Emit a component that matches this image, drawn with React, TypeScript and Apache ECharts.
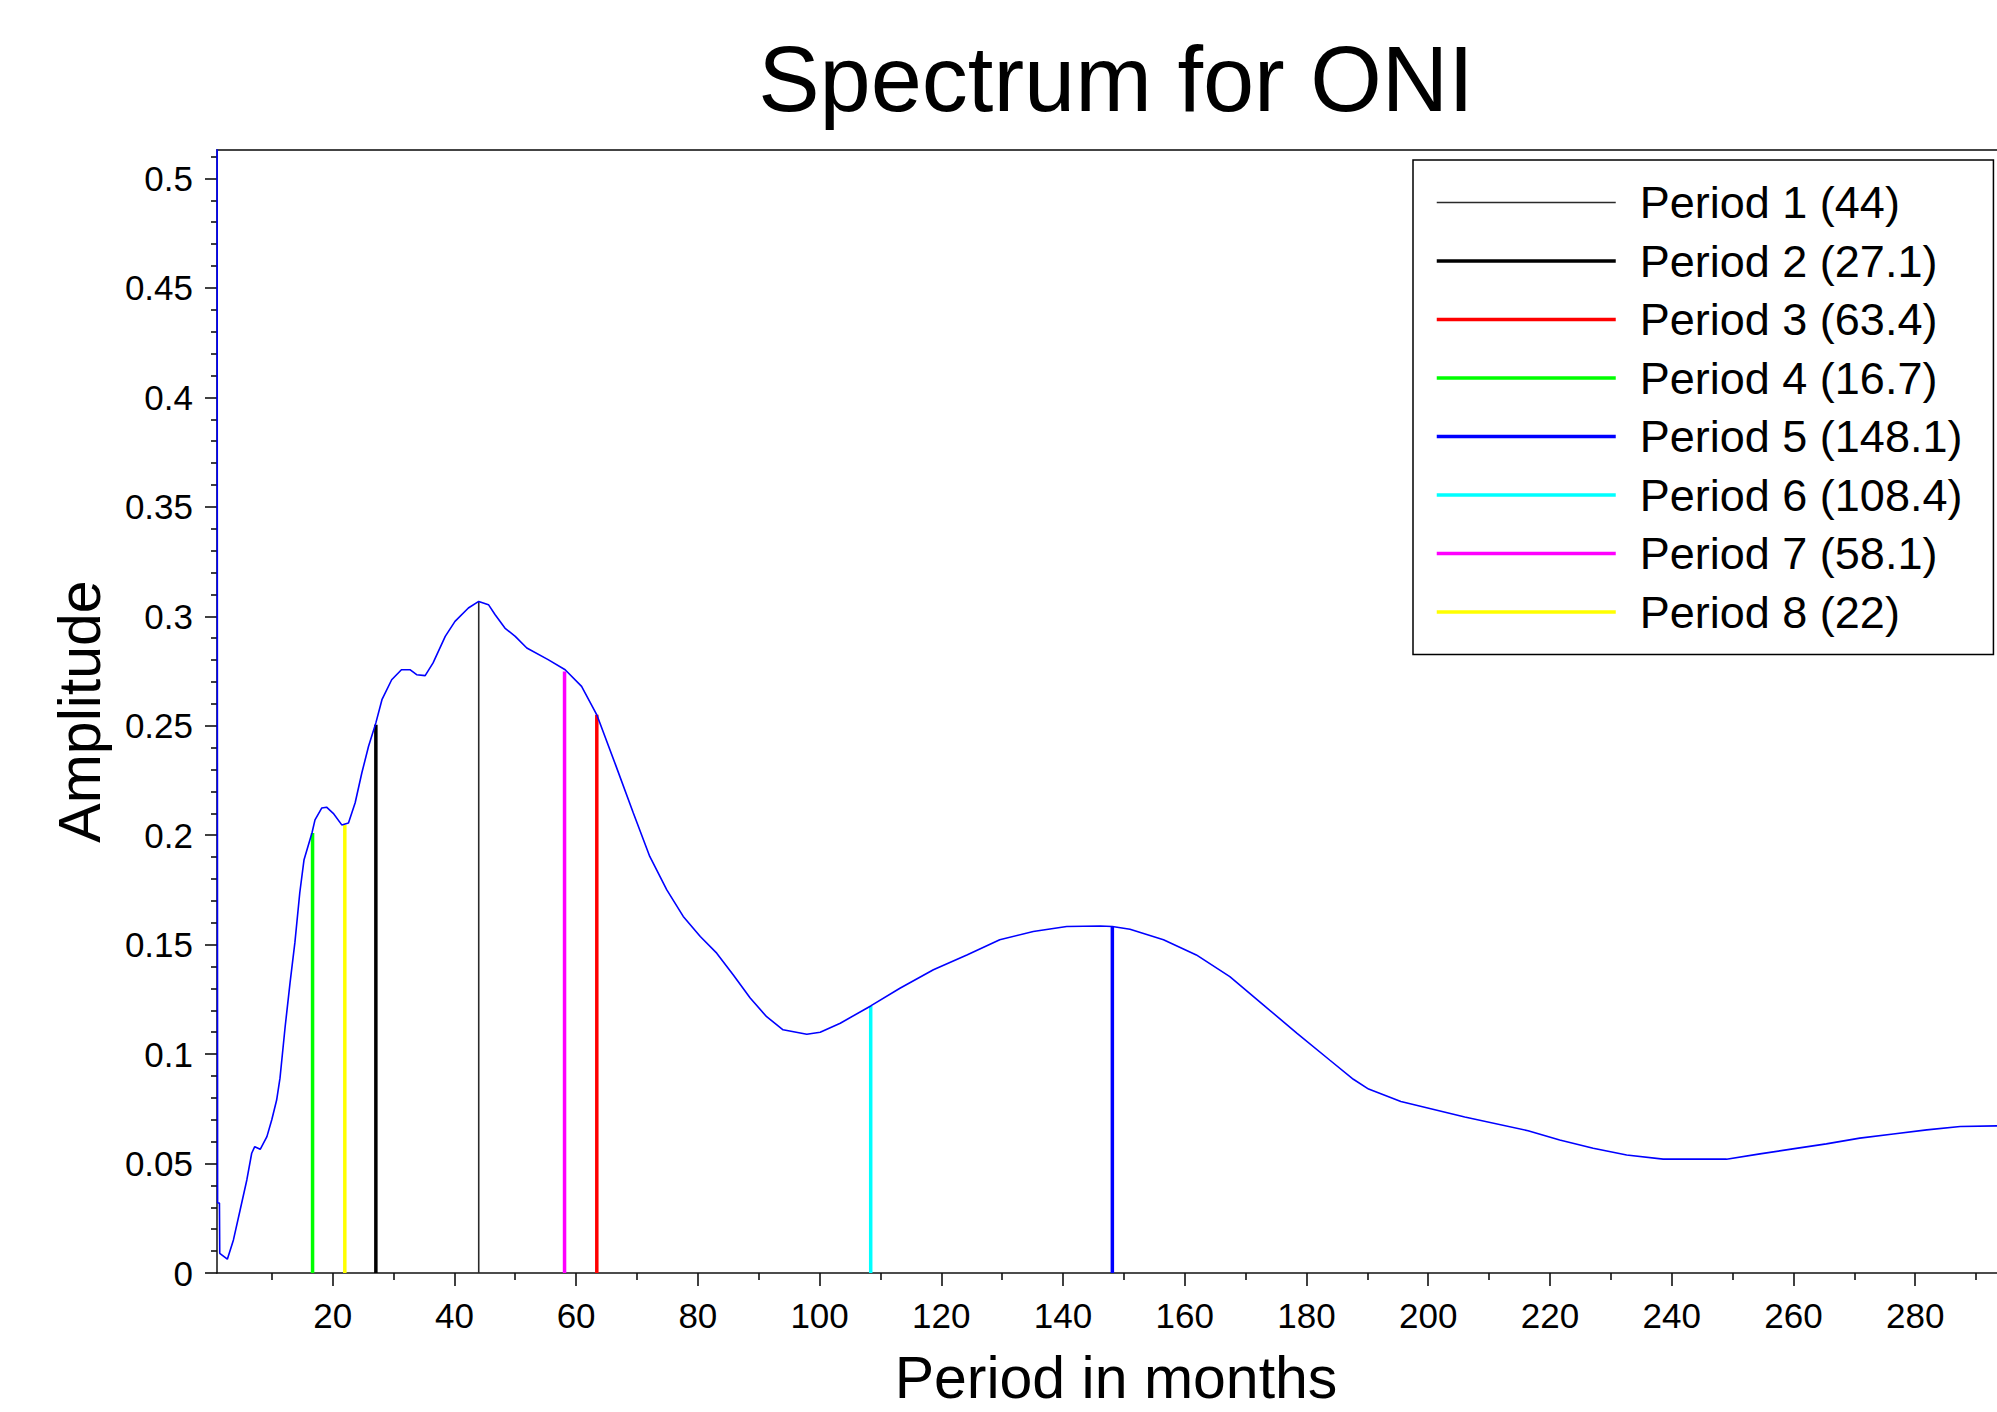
import React, { useEffect, useRef } from "react";
import * as echarts from "echarts";

const titleText = "Spectrum for ONI";
const xAxisName = "Period in months";
const yAxisName = "Amplitude";

const periodLabels = [
  "Period 1 (44)",
  "Period 2 (27.1)",
  "Period 3 (63.4)",
  "Period 4 (16.7)",
  "Period 5 (148.1)",
  "Period 6 (108.4)",
  "Period 7 (58.1)",
  "Period 8 (22)",
];
const periodX = [44, 27.1, 63.4, 16.7, 148.1, 108.4, 58.1, 22];
const periodAmp = [0.3068, 0.2505, 0.255, 0.201, 0.1583, 0.122, 0.2748, 0.2047];
const periodColors = ["#2a2a2a", "#000000", "#ff0000", "#00ff00", "#0000ff", "#00ffff", "#ff00ff", "#ffff00"];
const periodWidths = [1.6, 3.5, 3.5, 3.5, 3.5, 3.5, 3.5, 3.5];
const legendWidths = [1.3, 3.5, 3.5, 3.5, 3.5, 3.5, 3.5, 3.5];

const spectrumPeriod = [
  1.0, 1.1, 1.4, 1.45, 2.7, 3.7, 4.8, 5.9, 6.7, 7.2, 8.1, 9.2, 10.0, 10.8, 11.35, 12.2, 13.0, 13.8, 14.6, 15.3,
  16.6, 17.1, 18.2, 19.0, 20.1, 21.5, 22.6, 23.7, 24.8, 25.9, 27.1, 28.1, 29.7, 31.3, 32.7, 33.8, 35.2, 36.5,
  38.5, 40.1, 42.3, 44.0, 45.6, 46.7, 48.3, 50.0, 51.9, 55.4, 58.2, 60.9, 63.4, 66.5, 69.4, 72.1, 74.9, 77.6,
  80.4, 83.1, 85.8, 88.6, 91.3, 94.0, 97.9, 100.1, 103.4, 108.4, 113.2, 118.7, 124.2, 129.6, 135.1, 140.6,
  146.1, 148.1, 151.0, 156.5, 161.9, 167.4, 172.9, 178.4, 183.8, 187.7, 190.2, 195.5, 206.0, 216.4, 221.6,
  227.1, 232.6, 238.6, 249.0, 254.5, 259.9, 265.4, 270.9, 276.4, 281.9, 287.4, 293.4, 296.4,
];
const spectrumAmp = [
  0.62, 0.032, 0.032, 0.009, 0.0063, 0.0151, 0.0288, 0.0425, 0.0547, 0.0577, 0.0565, 0.0623, 0.07, 0.079, 0.089,
  0.1126, 0.1325, 0.151, 0.1737, 0.1888, 0.201, 0.207, 0.2124, 0.2128, 0.21, 0.2047, 0.2056, 0.2148, 0.2285,
  0.2406, 0.2513, 0.2619, 0.271, 0.2756, 0.2756, 0.2733, 0.2729, 0.2787, 0.2908, 0.2977, 0.3038, 0.3068,
  0.3053, 0.3007, 0.2946, 0.2908, 0.2855, 0.2802, 0.2756, 0.268, 0.255, 0.232, 0.2101, 0.1903, 0.175, 0.1629,
  0.1537, 0.1461, 0.1362, 0.1256, 0.1171, 0.1111, 0.1091, 0.11, 0.1141, 0.122, 0.1301, 0.1385, 0.1453, 0.1522,
  0.156, 0.1583, 0.1585, 0.1583, 0.157, 0.1522, 0.1453, 0.1354, 0.1225, 0.1096, 0.0973, 0.0885, 0.084, 0.0783,
  0.0713, 0.065, 0.0608, 0.057, 0.0539, 0.052, 0.052, 0.0544, 0.0567, 0.059, 0.0616, 0.0635, 0.0654, 0.0669,
  0.0672, 0.0673,
];

const xMajorTicks = [20, 40, 60, 80, 100, 120, 140, 160, 180, 200, 220, 240, 260, 280];
const xMinorTicks = [10, 30, 50, 70, 90, 110, 130, 150, 170, 190, 210, 230, 250, 270, 290];
const yMajorTicks = [0, 0.05, 0.1, 0.15, 0.2, 0.25, 0.3, 0.35, 0.4, 0.45, 0.5];
const yMinorTicks = [
  0.01, 0.02, 0.03, 0.04, 0.06, 0.07, 0.08, 0.09, 0.11, 0.12, 0.13, 0.14, 0.16, 0.17, 0.18, 0.19, 0.21, 0.22,
  0.23, 0.24, 0.26, 0.27, 0.28, 0.29, 0.31, 0.32, 0.33, 0.34, 0.36, 0.37, 0.38, 0.39, 0.41, 0.42, 0.43, 0.44,
  0.46, 0.47, 0.48, 0.49, 0.51,
];

const X_MIN = 1;
const X_MAX = 296.4;
const Y_MIN = 0;
const Y_MAX = 0.513;

const FONT = "'Liberation Sans', Arial, Helvetica, sans-serif";

export default function App() {
  const ref = useRef<HTMLDivElement>(null);

  useEffect(() => {
    if (!ref.current) return;
    const chart = echarts.init(ref.current, undefined, { renderer: "svg" });

    const axisColor = "#111";

    const periodSeries = periodLabels.map((name, i) => ({
      name,
      type: "line",
      xAxisIndex: 0,
      yAxisIndex: 0,
      data: [
        [periodX[i], 0],
        [periodX[i], periodAmp[i]],
      ],
      symbol: "none",
      showSymbol: false,
      lineStyle: { color: periodColors[i], width: periodWidths[i] },
      itemStyle: { color: periodColors[i] },
      z: 3,
      silent: true,
    }));

    const option: any = {
      animation: false,
      textStyle: { fontFamily: FONT },
      graphic: [
        {
          type: "text",
          x: 1116,
          y: 33,
          style: {
            text: titleText,
            font: `92px ${FONT}`,
            fill: "#000",
            align: "center",
            verticalAlign: "top",
          },
        },
      ],
      grid: {
        left: 217,
        top: 150,
        right: -18,
        bottom: 139,
        show: false,
        containLabel: false,
        outerBoundsMode: "none",
      },
      legend: {
        show: true,
        orient: "vertical",
        left: 1413,
        top: 160,
        data: periodLabels.map((name, i) => ({
          name,
          lineStyle: { width: legendWidths[i], color: periodColors[i] },
        })),
        itemWidth: 179,
        itemHeight: 46,
        itemGap: 13.5,
        padding: [20, 31, 20, 22],
        borderColor: "#000",
        borderWidth: 1.5,
        backgroundColor: "#fff",
        selectedMode: false,
        itemStyle: { opacity: 0, borderWidth: 0 },
        textStyle: { fontSize: 45, color: "#000", fontFamily: FONT, padding: [0, 0, 0, 19] },
        z: 10,
      },
      xAxis: [
        {
          type: "value",
          min: X_MIN,
          max: X_MAX,
          position: "bottom",
          name: xAxisName,
          nameLocation: "middle",
          nameGap: 81,
          nameTextStyle: { fontSize: 59, lineHeight: 48, color: "#000", fontFamily: FONT },
          axisLine: { show: true, onZero: false, lineStyle: { color: axisColor, width: 1.5 } },
          axisTick: { show: true, customValues: xMajorTicks, length: 13, lineStyle: { color: axisColor, width: 1.6 } },
          axisLabel: { show: true, customValues: xMajorTicks, fontSize: 35, color: "#000", margin: 25, fontFamily: FONT },
          splitLine: { show: false },
        },
        {
          type: "value",
          min: X_MIN,
          max: X_MAX,
          position: "bottom",
          axisLine: { show: false, onZero: false },
          axisTick: { show: true, customValues: xMinorTicks, length: 7, lineStyle: { color: axisColor, width: 1.6 } },
          axisLabel: { show: false },
          splitLine: { show: false },
        },
        {
          type: "value",
          min: X_MIN,
          max: X_MAX,
          position: "top",
          axisLine: { show: true, onZero: false, lineStyle: { color: "#444", width: 2 } },
          axisTick: { show: false },
          axisLabel: { show: false },
          splitLine: { show: false },
        },
      ],
      yAxis: [
        {
          type: "value",
          min: Y_MIN,
          max: Y_MAX,
          position: "left",
          name: yAxisName,
          nameLocation: "middle",
          nameGap: 108,
          nameRotate: 90,
          nameTextStyle: { fontSize: 59, color: "#000", fontFamily: FONT },
          axisLine: { show: true, onZero: false, lineStyle: { color: axisColor, width: 1.5 } },
          axisTick: { show: true, customValues: yMajorTicks, length: 12, lineStyle: { color: axisColor, width: 1.6 } },
          axisLabel: { show: true, customValues: yMajorTicks, fontSize: 35, color: "#000", margin: 24, fontFamily: FONT },
          splitLine: { show: false },
        },
        {
          type: "value",
          min: Y_MIN,
          max: Y_MAX,
          position: "left",
          axisLine: { show: false, onZero: false },
          axisTick: { show: true, customValues: yMinorTicks, length: 6, lineStyle: { color: axisColor, width: 1.6 } },
          axisLabel: { show: false },
          splitLine: { show: false },
        },
      ],
      series: [
        ...periodSeries,
        {
          name: "spectrum",
          type: "line",
          xAxisIndex: 0,
          yAxisIndex: 0,
          data: spectrumPeriod.map((p, i) => [p, spectrumAmp[i]]),
          symbol: "none",
          showSymbol: false,
          clip: true,
          lineStyle: { color: "#0000ff", width: 1.6 },
          z: 5,
          silent: true,
        },
      ],
    };

    chart.setOption(option);
    return () => {
      chart.dispose();
    };
  }, []);

  return (
    <div
      ref={ref}
      style={{ position: "fixed", left: 0, top: 0, width: 1997, height: 1412, background: "#fff", overflow: "hidden" }}
    />
  );
}
